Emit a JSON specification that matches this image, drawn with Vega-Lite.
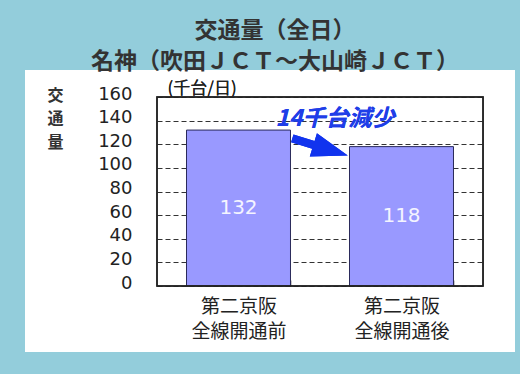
{
  "$schema": "https://vega.github.io/schema/vega-lite/v6.json",
  "autosize": "none",
  "width": 490,
  "height": 282,
  "padding": {"left": 25, "top": 70, "right": 5, "bottom": 22},
  "background": "#93CDDB",
  "config": {
    "font": "Noto Sans CJK JP",
    "view": {"fill": "white", "stroke": null}
  },
  "title": {
    "text": ["交通量（全日）", "名神（吹田ＪＣＴ～大山崎ＪＣＴ）"],
    "font": "Noto Sans CJK JP",
    "fontSize": 23,
    "lineHeight": 31,
    "fontWeight": "bold",
    "color": "#333333",
    "anchor": "middle",
    "frame": "group",
    "offset": -4,
    "dx": 5
  },
  "data": {
    "values": [
      {"label": "第二京阪 全線開通前", "value": 132},
      {"label": "第二京阪 全線開通後", "value": 118}
    ]
  },
  "resolve": {"scale": {"y": "independent"}},
  "layer": [
    {
      "layer": [
        {
          "mark": {"type": "bar", "fill": "#9999FF", "stroke": "#2a2a5a", "strokeWidth": 1},
          "encoding": {
            "x": {
              "field": "label",
              "type": "nominal",
              "sort": null,
              "scale": {"range": [132, 458], "paddingInner": 0.362, "paddingOuter": 0.181},
              "axis": {
                "title": null,
                "domain": false,
                "ticks": true,
                "tickBand": "extent",
                "tickSize": -6,
                "tickColor": "#222222",
                "tickWidth": 1.5,
                "offset": -66,
                "labelAngle": 0,
                "labelExpr": "split(datum.label, ' ')",
                "labelFont": "Noto Sans CJK JP",
                "labelFontSize": 19,
                "labelLineHeight": 25,
                "labelColor": "#222222",
                "labelBaseline": "top",
                "labelPadding": 17
              }
            },
            "y": {
              "field": "value",
              "type": "quantitative",
              "scale": {"domain": [0, 160], "range": [216, 27], "nice": false},
              "axis": {
                "values": [0, 20, 40, 60, 80, 100, 120, 140, 160],
                "tickCount": 20,
                "labelOverlap": false,
                "offset": -132,
                "domain": false,
                "ticks": false,
                "tickSize": 0,
                "labelPadding": 25,
                "labelFont": "DejaVu Sans",
                "labelFontSize": 18,
                "labelColor": "#222222",
                "labelOffset": -3,
                "grid": true,
                "gridDash": [5, 3],
                "gridColor": "#333333",
                "gridWidth": 1,
                "gridOpacity": 1,
                "title": ["交", "通", "量"],
                "titleAngle": 0,
                "titleX": -102,
                "titleY": 17,
                "titleAlign": "center",
                "titleBaseline": "top",
                "titleFont": "Noto Sans CJK JP",
                "titleFontSize": 16,
                "titleLineHeight": 23.5,
                "titleFontWeight": "bold",
                "titleColor": "#333333"
              }
            }
          }
        },
        {
          "mark": {"type": "rect", "fill": null, "stroke": "#222222", "strokeWidth": 1.5},
          "encoding": {
            "x": {"datum": "第二京阪 全線開通前", "bandPosition": -0.2837},
            "x2": {"datum": "第二京阪 全線開通後", "bandPosition": 1.284},
            "y": {"datum": 0},
            "y2": {"datum": 160}
          }
        },
        {
          "mark": {"type": "text", "text": "(千台/日)", "font": "Noto Sans CJK JP", "fontSize": 17, "color": "#222222", "baseline": "middle", "align": "center"},
          "encoding": {
            "x": {"datum": "第二京阪 全線開通前", "bandPosition": 0.15},
            "y": {"datum": 166.5}
          }
        },
        {
          "mark": {"type": "text", "text": "14千台減少", "font": "Noto Sans CJK JP", "fontSize": 23, "fontWeight": "bold", "fontStyle": "italic", "color": "#1f3ee8", "baseline": "middle", "align": "center"},
          "encoding": {
            "x": {"datum": "第二京阪 全線開通前", "bandPosition": 1.428},
            "y": {"datum": 141}
          }
        },
        {
          "mark": {"type": "point", "shape": "M-1,-0.14L-0.24,-0.14L-0.24,-0.42L1,0L-0.24,0.42L-0.24,0.14L-1,0.14Z", "filled": true, "fill": "#1133ee", "opacity": 1, "strokeWidth": 0, "size": 3364, "angle": 17},
          "encoding": {
            "x": {"datum": "第二京阪 全線開通前", "bandPosition": 1.284},
            "y": {"datum": 117.7}
          }
        }
      ]
    },
    {
      "mark": {"type": "text", "font": "DejaVu Sans", "fontSize": 20, "color": "#f4f4ff", "baseline": "middle", "align": "center"},
      "encoding": {
        "x": {"field": "label", "type": "nominal", "sort": null},
        "y": {"field": "value", "type": "quantitative", "scale": {"domain": [0, 320], "range": [216, 27], "nice": false}, "axis": null},
        "text": {"field": "value", "type": "quantitative"}
      }
    }
  ]
}
